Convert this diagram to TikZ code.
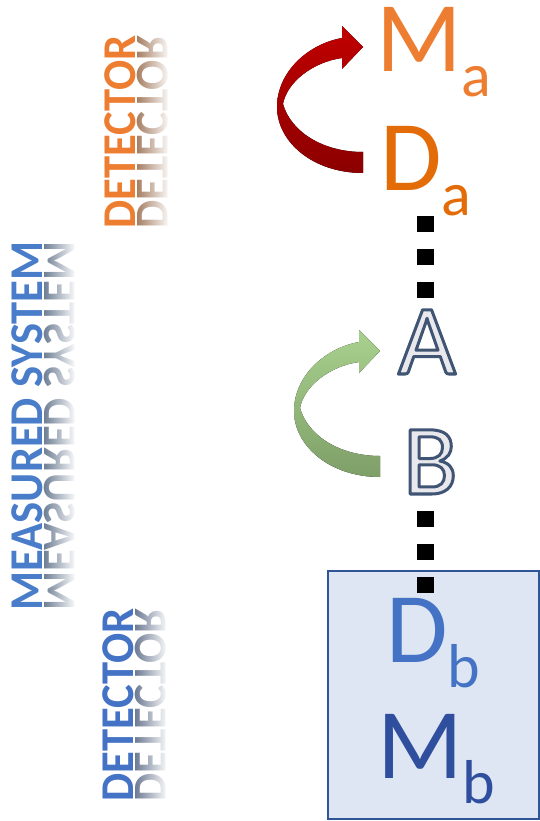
\documentclass[tikz,border=0pt]{standalone}
\usepackage{fontspec}
\setmainfont{Carlito}
\usetikzlibrary{positioning,fadings}
\definecolor{detorange}{HTML}{ED7D31}
\definecolor{dorange}{HTML}{E36C09}
\definecolor{detblue}{HTML}{4472C4}
\definecolor{darkblue}{HTML}{2F4E9E}
\definecolor{sysblue}{HTML}{4A7DC9}
\definecolor{letterfill}{HTML}{E9E9ED}
\definecolor{boxfill}{HTML}{DFE6F3}
\definecolor{boxedge}{HTML}{2F5597}
\definecolor{redtop}{HTML}{C00000}
\definecolor{redbottom}{HTML}{8C0000}
\definecolor{greentop}{HTML}{A9D18E}
\definecolor{greenbottom}{HTML}{7E9F68}
\newcommand{\lowsub}[1]{\raisebox{-25pt}{\fontsize{62}{62}\selectfont #1}}
% hollow letter: light fill, dark slate outline
\newcommand{\hollow}[1]{\special{pdf:literal direct 0.25 0.33 0.45 RG 3 w 1 j 2 Tr}#1\special{pdf:literal direct 0 Tr}}
\tikzfading[name=reflfade, left color=transparent!100, right color=transparent!0]
% twisted ribbon arrow, tail at the origin, head up and to the right
\tikzset{pics/curl/.style 2 args={code={
			\fill[top color=#1, bottom color=#2]
			(0,11) .. controls (-50,11) and (-86,-20) .. (-86,-55)
			.. controls (-86,-90) and (-55,-118) .. (-21,-124)
			-- (-21,-136) -- (0,-115) -- (-21,-93) -- (-21,-104)
			.. controls (-50,-100) and (-76,-80) .. (-80,-58)
			.. controls (-72,-30) and (-40,-10) .. (0,-10) -- cycle;
}}}

\begin{document}
\begin{tikzpicture}[x=1pt,y=-1pt]
	\tikzset{bigletter/.style={inner sep=0pt, font=\fontsize{100}{100}\selectfont},
		sidetext/.style={rotate=90, xscale=.95, anchor=base, inner sep=0pt, font=\fontsize{47}{47}\selectfont\bfseries},
		mirror/.style={sidetext, yscale=-1},
		dots/.style={line width=17pt, dash pattern=on 16pt off 17pt},
		detbox/.style={draw=boxedge, fill=boxfill, line width=1.5pt, inner sep=0pt,
			minimum width=211pt, minimum height=248pt, anchor=north west},
	}
	\useasboundingbox (0,0) rectangle (540,821);
	% side captions and their reflections
	\node [sidetext, text=detorange] (capa) at (135,132) {DETECTOR};
	\node [mirror, text=detorange!35!gray] (capa-r) at (137,132) {DETECTOR};
	\node [sidetext, text=sysblue] (sys) at (42,426) {MEASURED SYSTEM};
	\node [mirror, text=sysblue!30!gray] (sys-r) at (44,426) {MEASURED SYSTEM};
	\node [sidetext, text=detblue] (capb) at (133,705) {DETECTOR};
	\node [mirror, text=detblue!30!gray] (capb-r) at (135,705) {DETECTOR};
	\fill[white, path fading=reflfade] (137,30) rectangle (170,235);
	\fill[white, path fading=reflfade] (44,230) rectangle (76,620);
	\fill[white, path fading=reflfade] (135,600) rectangle (168,810);
	% detector b
	\node [detbox] (dbox) at (327,570) {};
	% the chain
	\coordinate (axis) at (425,0);
	\node [bigletter, text=detorange, anchor=base west] (Ma) at (376,72) {M\lowsub{a}};
	\node [bigletter, text=dorange, anchor=base west] (Da) at (380,190) {D\lowsub{a}};
	\node [bigletter, text=letterfill, anchor=base] (A) at (427,374) {\hollow{A}};
	\node [bigletter, text=letterfill, anchor=base west] (B) at (403,494) {\hollow{B}};
	\node [bigletter, text=detblue, anchor=base west] (Db) at (386,662) {D\lowsub{b}};
	\node [bigletter, text=darkblue, anchor=base west] (Mb) at (377,778) {M\lowsub{b}};
	\draw[dots] (axis |- Da.south) -- (axis |- A.north);
	\draw[dots, dash phase=16pt] (axis |- B.south) -- (axis |- Db.north);
	% measurement arrows
	\pic at ([xshift=-17pt, yshift=28pt]Da.base west) {curl={redtop}{redbottom}};
	\pic at ([xshift=-23pt, yshift=28pt]B.base west) {curl={greentop}{greenbottom}};
\end{tikzpicture}
\end{document}
